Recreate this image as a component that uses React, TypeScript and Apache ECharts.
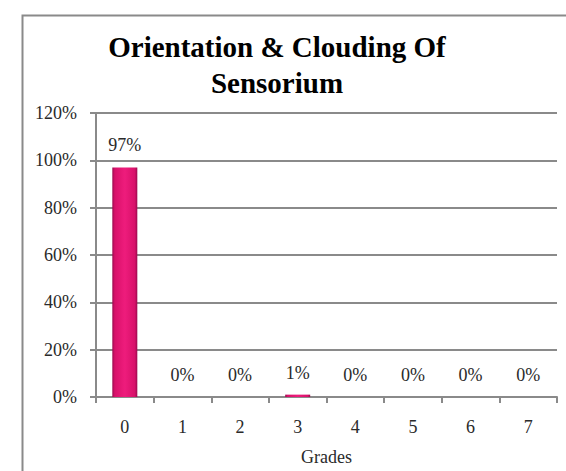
import React, { useEffect, useRef } from "react";
import * as echarts from "echarts";

const grades = ["0", "1", "2", "3", "4", "5", "6", "7"];
const percentages = [97, 0, 0, 1, 0, 0, 0, 0];
const yTicks = [0, 20, 40, 60, 80, 100, 120];
const titleText = "Orientation & Clouding Of\nSensorium";
const xAxisName = "Grades";

const SERIF = "Liberation Serif";

export default function App() {
  const ref = useRef<HTMLDivElement>(null);

  useEffect(() => {
    if (!ref.current) return;
    const chart = echarts.init(ref.current, undefined, { renderer: "svg" });

    const barFill = new echarts.graphic.LinearGradient(0, 0, 1, 0, [
      { offset: 0, color: "#9a0a4e" },
      { offset: 0.1, color: "#d8116a" },
      { offset: 0.5, color: "#ee1c7c" },
      { offset: 0.9, color: "#d8116a" },
      { offset: 1, color: "#9a0a4e" },
    ]);

    chart.setOption({
      animation: false,
      backgroundColor: "#ffffff",
      graphic: [
        {
          type: "rect",
          left: 20,
          top: 13,
          shape: { width: 600, height: 520 },
          style: { fill: "none", stroke: "#8a8a8a", lineWidth: 2 },
          z: 0,
        },
        {
          type: "text",
          x: 277,
          y: 65,
          style: {
            text: titleText,
            fontFamily: SERIF,
            fontSize: 29,
            fontWeight: "bold",
            lineHeight: 36,
            fill: "#000000",
            align: "center",
            verticalAlign: "middle",
          },
          z: 10,
        },
      ],
      grid: { left: 96, right: 9, top: 113, bottom: 74, containLabel: false },
      xAxis: {
        type: "category",
        data: grades,
        name: xAxisName,
        nameLocation: "middle",
        nameGap: 51,
        nameTextStyle: { fontFamily: SERIF, fontSize: 18, color: "#2a2a2a" },
        axisLine: { lineStyle: { color: "#8a8a8a", width: 2 } },
        axisTick: { show: true, length: 6, alignWithLabel: false, lineStyle: { color: "#8a8a8a", width: 2 } },
        axisLabel: { margin: 21, fontFamily: SERIF, fontSize: 18, color: "#2a2a2a" },
        splitLine: { show: false },
      },
      yAxis: {
        type: "value",
        min: 0,
        max: 120,
        interval: 20,
        axisLine: { show: true, lineStyle: { color: "#8a8a8a", width: 2 } },
        axisTick: { show: true, length: 6, lineStyle: { color: "#8a8a8a", width: 2 } },
        axisLabel: {
          margin: 19,
          fontFamily: SERIF,
          fontSize: 18,
          color: "#2a2a2a",
          formatter: (v: number) => (yTicks.includes(v) ? `${v}%` : ""),
        },
        splitLine: { show: true, lineStyle: { color: "#8a8a8a", width: 2 } },
      },
      series: [
        {
          type: "bar",
          data: percentages,
          barWidth: 25,
          itemStyle: { color: barFill },
          label: {
            show: true,
            position: "top",
            distance: 13,
            formatter: (p: any) => `${p.value}%`,
            fontFamily: SERIF,
            fontSize: 18,
            color: "#2a2a2a",
          },
          z: 5,
        },
      ],
    });

    return () => chart.dispose();
  }, []);

  return (
    <div
      ref={ref}
      style={{ position: "fixed", left: 0, top: 0, width: 566, height: 471 }}
    />
  );
}
